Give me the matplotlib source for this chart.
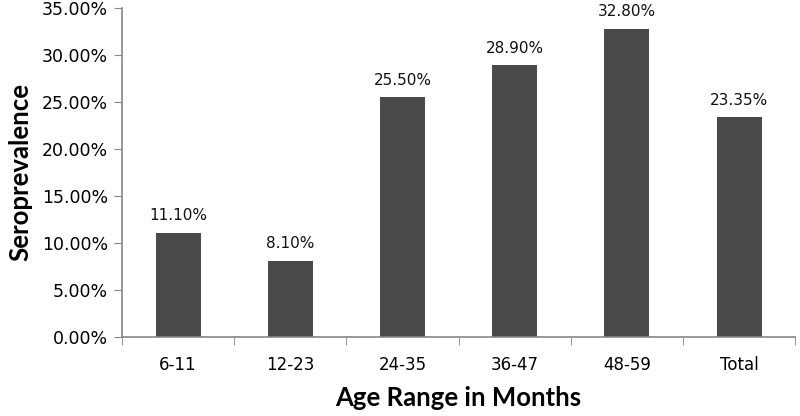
import matplotlib
matplotlib.use("Agg")
import matplotlib.pyplot as plt
from matplotlib.ticker import FuncFormatter, FixedLocator

# data
categories = ["6-11", "12-23", "24-35", "36-47", "48-59", "Total"]
seroprevalence = [11.10, 8.10, 25.50, 28.90, 32.80, 23.35]
y_ticks = [0, 5, 10, 15, 20, 25, 30, 35]

bar_color = "#4a4a4a"
spine_color = "#868686"

fig = plt.figure(figsize=(8, 4.16), dpi=100)
ax = fig.add_axes([0.1525, 0.19, 0.8415, 0.791])

x = list(range(len(categories)))
ax.bar(x, seroprevalence, width=0.4, color=bar_color)

# value labels above bars
for xi, v in zip(x, seroprevalence):
    ax.text(xi, v + 1.0, f"{v:.2f}%", ha="center", va="bottom",
            fontsize=11, family="DejaVu Sans", color="#111111")

ax.set_xlim(-0.5, len(categories) - 0.5)
ax.set_ylim(0, 35)
ax.set_yticks(y_ticks)
ax.yaxis.set_major_formatter(FuncFormatter(lambda v, p: f"{v:.2f}%"))

# category labels centred, tick marks at the boundaries
ax.set_xticks(x)
ax.set_xticklabels(categories)
ax.tick_params(axis="x", which="major", length=0, pad=14, labelsize=12)
ax.xaxis.set_minor_locator(FixedLocator([i - 0.5 for i in range(len(categories) + 1)]))
ax.tick_params(axis="x", which="minor", length=6, color=spine_color, direction="out")
ax.tick_params(axis="y", length=6, color=spine_color, direction="out", labelsize=12.5, pad=4)

for side in ["top", "right"]:
    ax.spines[side].set_visible(False)
for side in ["left", "bottom"]:
    ax.spines[side].set_color(spine_color)
    ax.spines[side].set_linewidth(1.2)

ax.set_xlabel("Age Range in Months", fontsize=18.5, fontweight="bold",
              family="Lato", labelpad=8)
ax.set_ylabel("Seroprevalence", fontsize=18.5, fontweight="bold",
              family="Lato", labelpad=7)

fig.savefig("out.png", dpi=100)
